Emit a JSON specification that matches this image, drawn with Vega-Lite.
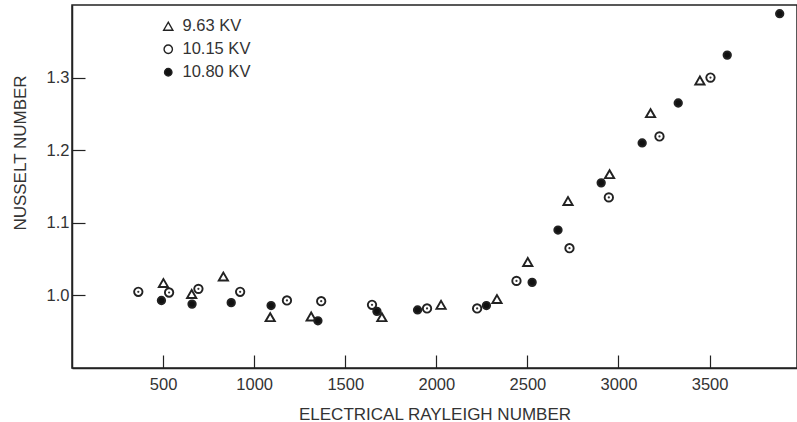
{
  "$schema": "https://vega.github.io/schema/vega-lite/v6.json",
  "width": 725,
  "height": 363,
  "autosize": {"type": "none"},
  "padding": {"left": 72, "top": 5, "right": 0, "bottom": 54},
  "background": "white",
  "config": {
    "font": "Liberation Sans",
    "view": {"stroke": "#222", "strokeWidth": 1.5},
    "axis": {
      "domainColor": "#222",
      "domainWidth": 1.5,
      "tickColor": "#222",
      "tickWidth": 1.2,
      "labelColor": "#333",
      "titleColor": "#333",
      "labelFontSize": 16.5,
      "titleFontSize": 17,
      "titleFontWeight": "normal",
      "grid": false
    }
  },
  "data": {
    "values": [
      {"ra": 502, "nu": 1.017, "series": "9.63 KV"},
      {"ra": 657, "nu": 1.002, "series": "9.63 KV"},
      {"ra": 831, "nu": 1.026, "series": "9.63 KV"},
      {"ra": 1088, "nu": 0.970, "series": "9.63 KV"},
      {"ra": 1313, "nu": 0.971, "series": "9.63 KV"},
      {"ra": 1701, "nu": 0.970, "series": "9.63 KV"},
      {"ra": 2026, "nu": 0.987, "series": "9.63 KV"},
      {"ra": 2333, "nu": 0.995, "series": "9.63 KV"},
      {"ra": 2502, "nu": 1.046, "series": "9.63 KV"},
      {"ra": 2723, "nu": 1.130, "series": "9.63 KV"},
      {"ra": 2951, "nu": 1.167, "series": "9.63 KV"},
      {"ra": 3176, "nu": 1.251, "series": "9.63 KV"},
      {"ra": 3447, "nu": 1.296, "series": "9.63 KV"},
      {"ra": 364, "nu": 1.005, "series": "10.15 KV"},
      {"ra": 533, "nu": 1.004, "series": "10.15 KV"},
      {"ra": 694, "nu": 1.009, "series": "10.15 KV"},
      {"ra": 923, "nu": 1.005, "series": "10.15 KV"},
      {"ra": 1180, "nu": 0.993, "series": "10.15 KV"},
      {"ra": 1368, "nu": 0.992, "series": "10.15 KV"},
      {"ra": 1647, "nu": 0.987, "series": "10.15 KV"},
      {"ra": 1949, "nu": 0.982, "series": "10.15 KV"},
      {"ra": 2224, "nu": 0.982, "series": "10.15 KV"},
      {"ra": 2440, "nu": 1.020, "series": "10.15 KV"},
      {"ra": 2731, "nu": 1.065, "series": "10.15 KV"},
      {"ra": 2947, "nu": 1.135, "series": "10.15 KV"},
      {"ra": 3225, "nu": 1.219, "series": "10.15 KV"},
      {"ra": 3505, "nu": 1.300, "series": "10.15 KV"},
      {"ra": 491, "nu": 0.993, "series": "10.80 KV"},
      {"ra": 659, "nu": 0.988, "series": "10.80 KV"},
      {"ra": 874, "nu": 0.990, "series": "10.80 KV"},
      {"ra": 1093, "nu": 0.986, "series": "10.80 KV"},
      {"ra": 1350, "nu": 0.965, "series": "10.80 KV"},
      {"ra": 1674, "nu": 0.978, "series": "10.80 KV"},
      {"ra": 1897, "nu": 0.980, "series": "10.80 KV"},
      {"ra": 2275, "nu": 0.986, "series": "10.80 KV"},
      {"ra": 2526, "nu": 1.018, "series": "10.80 KV"},
      {"ra": 2668, "nu": 1.090, "series": "10.80 KV"},
      {"ra": 2905, "nu": 1.155, "series": "10.80 KV"},
      {"ra": 3130, "nu": 1.210, "series": "10.80 KV"},
      {"ra": 3328, "nu": 1.265, "series": "10.80 KV"},
      {"ra": 3597, "nu": 1.331, "series": "10.80 KV"},
      {"ra": 3885, "nu": 1.388, "series": "10.80 KV"}
    ]
  },
  "encoding": {
    "x": {
      "field": "ra", "type": "quantitative",
      "scale": {"domain": [0, 3980], "nice": false, "zero": false},
      "axis": {
        "title": "ELECTRICAL RAYLEIGH NUMBER",
        "values": [500, 1000, 1500, 2000, 2500, 3000, 3500],
        "format": "d",
        "tickSize": -13,
        "labelPadding": 21,
        "titleY": 38
      }
    },
    "y": {
      "field": "nu", "type": "quantitative",
      "scale": {"domain": [0.9, 1.4], "nice": false, "zero": false},
      "axis": {
        "title": "NUSSELT NUMBER",
        "values": [1.0, 1.1, 1.2, 1.3],
        "format": ".1f",
        "tickSize": -13,
        "labelPadding": 16,
        "titleX": -47,
        "titleY": 147.5,
        "titleBaseline": "alphabetic"
      }
    }
  },
  "layer": [
    {
      "mark": {"type": "point", "stroke": "#222", "strokeWidth": 1.9, "opacity": 1},
      "encoding": {
        "shape": {
          "field": "series", "type": "nominal",
          "scale": {"domain": ["9.63 KV", "10.15 KV", "10.80 KV"], "range": ["triangle-up", "circle", "circle"]},
          "legend": {
            "title": null, "orient": "none", "legendX": 88, "legendY": 13,
            "labelFontSize": 16.5, "labelColor": "#333", "rowPadding": 6,
            "symbolStrokeColor": "#222", "symbolStrokeWidth": 1.4, "labelOffset": 6
          }
        },
        "fill": {
          "field": "series", "type": "nominal",
          "scale": {"domain": ["9.63 KV", "10.15 KV", "10.80 KV"], "range": ["white", "white", "#111"]}
        },
        "size": {
          "field": "series", "type": "nominal",
          "scale": {"domain": ["9.63 KV", "10.15 KV", "10.80 KV"], "range": [85, 55, 80]}
        }
      }
    },
    {
      "transform": [{"filter": "datum.series === '10.15 KV'"}],
      "mark": {"type": "point", "filled": true, "color": "#333", "size": 5, "opacity": 1},
      "encoding": {}
    }
  ]
}
